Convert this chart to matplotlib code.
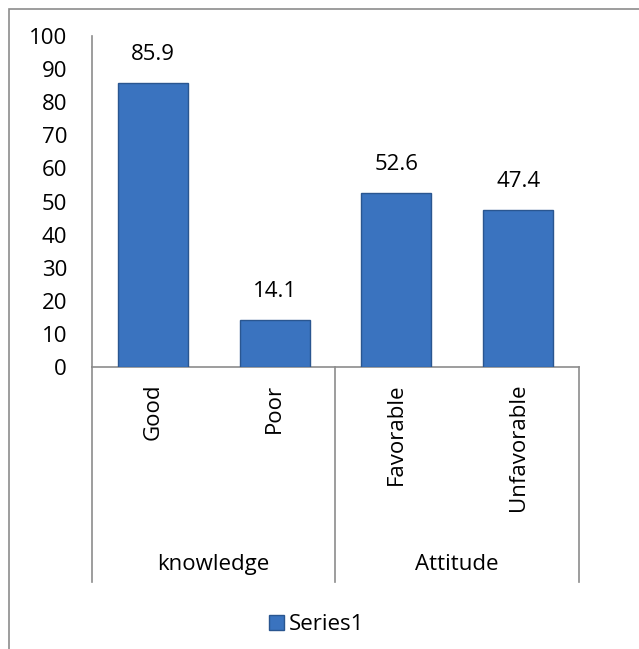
import matplotlib.pyplot as plt
from matplotlib.patches import Rectangle
from matplotlib.lines import Line2D

plt.rcParams['font.family'] = ['Open Sans', 'DejaVu Sans']

categories = ['Good', 'Poor', 'Favorable', 'Unfavorable']
groups = ['knowledge', 'Attitude']
group_sizes = [2, 2]
values = [85.9, 14.1, 52.6, 47.4]

bar_color = '#3A73BF'
edge_color = '#2A5690'
line_gray = '#8C8C8C'
fs = 16

fig = plt.figure(figsize=(6.39, 6.49), dpi=100)
ax = fig.add_axes([0.144, 0.4345, 0.762, 0.51])

# outer chart border (only left/top visible in the original crop)
fig.patches.append(Rectangle((9 / 639, -0.05), 1.1, 1 - 9 / 649 + 0.05,
                             transform=fig.transFigure, fill=False,
                             edgecolor=line_gray, linewidth=1.2))

x = list(range(len(categories)))
bars = ax.bar(x, values, width=0.575, color=bar_color, edgecolor=edge_color,
              linewidth=1.0, zorder=3)

for xi, v in zip(x, values):
    ax.text(xi, v + 8.6, f'{v:.1f}', ha='center', va='center', fontsize=fs)

ax.set_xlim(-0.5, len(categories) - 0.5)
ax.set_ylim(0, 100)
ax.set_yticks(range(0, 101, 10))
ax.tick_params(axis='y', length=0, labelsize=fs, pad=18)
ax.set_xticks([])

for s in ['top', 'right']:
    ax.spines[s].set_visible(False)
for s in ['left', 'bottom']:
    ax.spines[s].set_color(line_gray)
    ax.spines[s].set_linewidth(1.2)

trans = ax.get_xaxis_transform()

# category labels (rotated)
for xi, c in zip(x, categories):
    ax.text(xi, -0.05, c, rotation=90, ha='center', va='top',
            fontsize=fs, transform=trans)

# group separators and labels
start = 0
bounds = [-0.5]
for g, n in zip(groups, group_sizes):
    end = start + n
    ax.text((start + end - 1) / 2, -0.598, g, ha='center', va='center',
            fontsize=fs, transform=trans)
    bounds.append(end - 0.5)
    start = end
for b in bounds:
    ax.add_line(Line2D([b, b], [0, -0.65], transform=trans, color=line_gray,
                       linewidth=1.2, clip_on=False))

handle = Rectangle((0, 0), 1, 1, facecolor=bar_color, edgecolor=edge_color)
fig.legend([handle], ['Series1'], loc='center', bbox_to_anchor=(0.495, 0.037),
           frameon=False, fontsize=fs, handlelength=0.7, handleheight=0.7,
           handletextpad=0.2)

fig.savefig('out.png', dpi=100)
